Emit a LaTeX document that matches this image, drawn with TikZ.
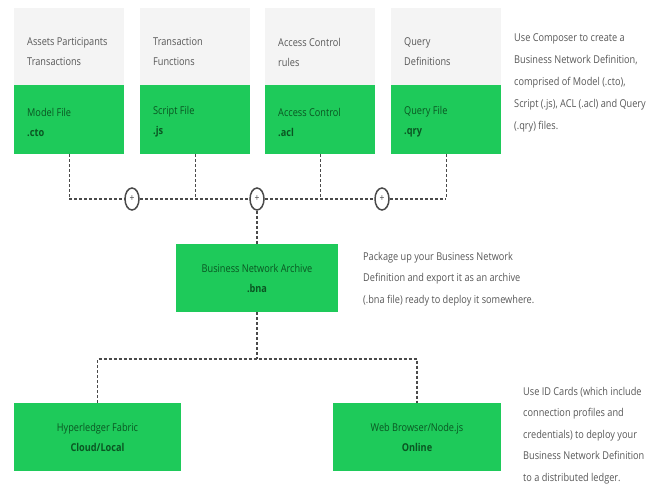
\documentclass[tikz,border=0pt]{standalone}
\usepackage{fontspec}
\usetikzlibrary{shapes.geometric}
\setmainfont{Open Sans}[FakeStretch=0.85]
\definecolor{boxgreen}{HTML}{1ECA5A}
\definecolor{greentext}{HTML}{0A5522}
\definecolor{headgray}{HTML}{F4F4F4}
\definecolor{notegray}{HTML}{575757}
\definecolor{linegray}{HTML}{4A4A4A}
\tikzset{
  headbox/.style={fill=headgray, draw=none, minimum width=110pt, minimum height=77pt, anchor=north west, inner sep=0pt},
  filebox/.style={fill=boxgreen, draw=none, minimum width=110pt, minimum height=69pt, anchor=north west, inner sep=0pt},
  bigbox/.style={fill=boxgreen, draw=none, minimum height=68pt, inner sep=0pt, align=center, text=greentext, font=\fontsize{10.8}{20}\selectfont},
  headtxt/.style={anchor=west, align=left, text=notegray, font=\fontsize{10.8}{20}\selectfont, inner sep=0pt},
  filetxt/.style={anchor=west, align=left, text=greentext, font=\fontsize{10.8}{20}\selectfont, inner sep=0pt},
  note/.style={anchor=north west, align=left, text=notegray, inner sep=0pt},
  conn/.style={draw=linegray, line width=1.3pt, dash pattern=on 3pt off 2pt},
  plusnode/.style={ellipse, draw=linegray, line width=1.5pt, fill=white, minimum width=14pt, minimum height=22pt, inner sep=0pt, text=linegray, font=\fontsize{10}{10}\selectfont}
}
\begin{document}
\begin{tikzpicture}[x=1pt,y=-1pt]
\useasboundingbox (0,0) rectangle (660,484);
% top header boxes
\node[headbox] (h1) at (14,8) {};
\node[headbox] (h2) at (140,8) {};
\node[headbox] (h3) at (265,8) {};
\node[headbox] (h4) at (391,8) {};
\node[headtxt] (h1t) at (27,52) {Assets Participants\\Transactions};
\node[headtxt] (h2t) at (153,52) {Transaction\\Functions};
\node[headtxt] (h3t) at (278,52) {Access Control\\rules};
\node[headtxt] (h4t) at (404,52) {Query\\Definitions};
% file boxes
\node[filebox] (m1) at (14,85) {};
\node[filebox] (m2) at (140,85) {};
\node[filebox] (m3) at (265,85) {};
\node[filebox] (m4) at (391,85) {};
\node[filetxt] (m1t) at (27,122) {Model File\\\textbf{.cto}};
\node[filetxt] (m2t) at (153,122) {Script File\\\textbf{.js}};
\node[filetxt] (m3t) at (278,122) {Access Control\\\textbf{.acl}};
\node[filetxt] (m4t) at (404,122) {Query File\\\textbf{.qry}};
% notes
\node[note, font=\fontsize{10.8}{22}\selectfont] (n1) at (514,33) {Use Composer to create a\\Business Network Definition,\\comprised of Model (.cto),\\Script (.js), ACL (.acl) and Query\\(.qry) files.};
\node[note, font=\fontsize{10.8}{21.5}\selectfont] (n2) at (363,252) {Package up your Business Network\\Definition and export it as an archive\\(.bna file) ready to deploy it somewhere.};
\node[note, font=\fontsize{10.8}{21.5}\selectfont] (n3) at (523,387) {Use ID Cards (which include\\connection profiles and\\credentials) to deploy your\\Business Network Definition\\to a distributed ledger.};
% middle and bottom boxes
\node[bigbox, minimum width=162pt] (arch) at (257,278) {Business Network Archive\\\textbf{.bna}};
\node[bigbox, minimum width=167pt] (hf) at (97.5,437) {Hyperledger Fabric\\\textbf{Cloud/Local}};
\node[bigbox, minimum width=168pt] (wb) at (417,437) {Web Browser/Node.js\\\textbf{Online}};
% junction helpers
\coordinate (hl) at (0,199);
\coordinate (bl) at (0,359);
\node[plusnode] (p1) at (132,199) {+};
\node[plusnode] (p2) at (257,199) {+};
\node[plusnode] (p3) at (382,199) {+};
% connectors
\draw[conn] (m1.south) -- (m1.south |- hl);
\draw[conn] (m2.south) -- (m2.south |- hl);
\draw[conn] (m3.south) -- (m3.south |- hl);
\draw[conn] (m4.south) -- (m4.south |- hl);
\draw[conn] (m1.south |- hl) -- (p1);
\draw[conn] (p1) -- (m2.south |- hl) -- (p2);
\draw[conn] (p2) -- (m3.south |- hl) -- (p3);
\draw[conn] (p3) -- (m4.south |- hl);
\draw[conn] (p2) -- (arch.north);
\draw[conn] (arch.south) -- (arch.south |- bl);
\draw[conn] (hf.north) -- (hf.north |- bl) -- (wb.north |- bl) -- (wb.north);
\end{tikzpicture}
\end{document}
